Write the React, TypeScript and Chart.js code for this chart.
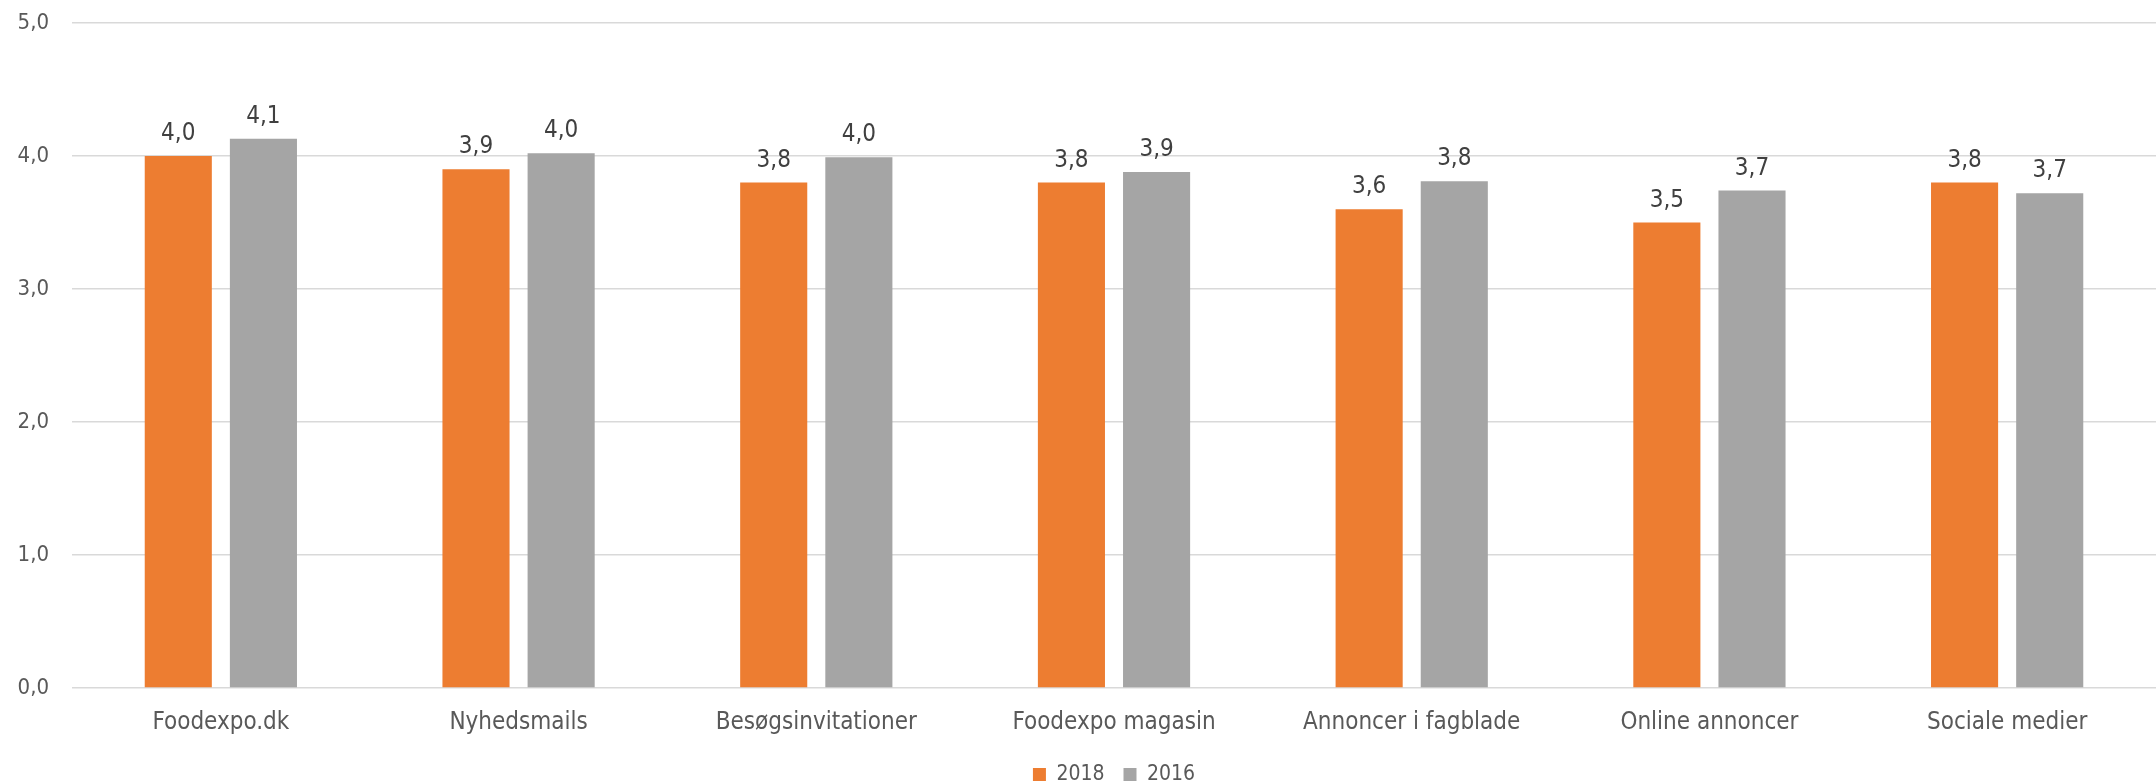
import React, { useEffect, useRef } from "react";
import { Chart, registerables } from "chart.js";

Chart.register(...registerables);

const categories = [
  "Foodexpo.dk",
  "Nyhedsmails",
  "Besøgsinvitationer",
  "Foodexpo magasin",
  "Annoncer i fagblade",
  "Online annoncer",
  "Sociale medier",
];
const series2018 = [4.0, 3.9, 3.8, 3.8, 3.6, 3.5, 3.8];
const series2016 = [4.13, 4.02, 3.99, 3.88, 3.81, 3.74, 3.72];
const yTicks = [0, 1, 2, 3, 4, 5];

const FONT = "'DejaVu Sans Condensed', 'DejaVu Sans', sans-serif";
const fmt = (v: number) => v.toFixed(1).replace(".", ",");

const dataLabels = {
  id: "dataLabels",
  afterDatasetsDraw(chart: any) {
    const ctx = chart.ctx;
    ctx.save();
    ctx.font = `24px ${FONT}`;
    ctx.fillStyle = "#404040";
    ctx.textAlign = "center";
    ctx.textBaseline = "alphabetic";
    chart.data.datasets.forEach((ds: any, di: number) => {
      const meta = chart.getDatasetMeta(di);
      meta.data.forEach((el: any, i: number) => {
        ctx.fillText(fmt(ds.data[i]), el.x, el.y - 16);
      });
    });
    ctx.restore();
  },
};

export default function App() {
  const ref = useRef<HTMLCanvasElement | null>(null);
  useEffect(() => {
    if (!ref.current) return;
    const chart = new Chart(ref.current, {
      type: "bar",
      data: {
        labels: categories,
        datasets: [
          {
            label: "2018",
            data: series2018,
            backgroundColor: "#ED7D31",
            categoryPercentage: 0.572,
            barPercentage: 0.788,
          },
          {
            label: "2016",
            data: series2016,
            backgroundColor: "#A5A5A5",
            categoryPercentage: 0.572,
            barPercentage: 0.788,
          },
        ],
      },
      options: {
        responsive: false,
        animation: false,
        layout: { padding: { top: 23, right: 0, left: 0, bottom: -12 } },
        plugins: {
          legend: {
            position: "bottom",
            fullSize: false,
            labels: {
              boxWidth: 13,
              boxHeight: 13,
              padding: 19,
              color: "#595959",
              font: { family: FONT, size: 21 },
            },
          },
          tooltip: { enabled: false },
        },
        scales: {
          x: {
            grid: { display: false, drawTicks: false },
            border: { display: false },
            ticks: {
              color: "#595959",
              font: { family: FONT, size: 24 },
              padding: 20,
              maxRotation: 0,
            },
            afterFit: (s: any) => {
              s.height = 57;
            },
          },
          y: {
            min: 0,
            max: 5,
            afterBuildTicks: (s: any) => {
              s.ticks = yTicks.map((v) => ({ value: v }));
            },
            grid: { color: "#D9D9D9", lineWidth: 1.5, drawTicks: false },
            border: { display: false },
            ticks: {
              color: "#595959",
              font: { family: FONT, size: 22 },
              padding: 23,
              callback: (v: any) => fmt(Number(v)),
            },
            afterFit: (s: any) => {
              s.width = 72;
              s.paddingTop = 0;
              s.paddingBottom = 0;
            },
          },
        },
      },
      plugins: [dataLabels],
    });
    return () => chart.destroy();
  }, []);
  return (
    <div style={{ position: "fixed", left: 0, top: 0, width: 2156, height: 783, background: "#fff" }}>
      <canvas ref={ref} width={2156} height={783} />
    </div>
  );
}
